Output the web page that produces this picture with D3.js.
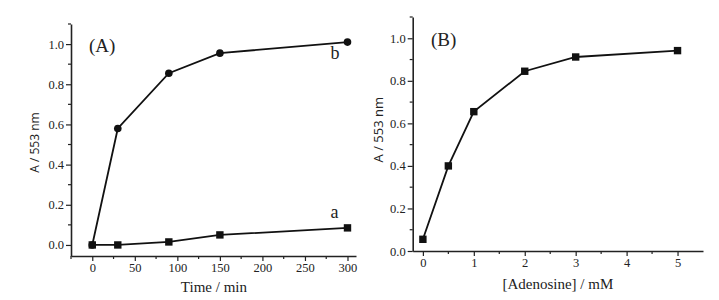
<!DOCTYPE html>
<html><head><meta charset="utf-8">
<script src="https://cdn.jsdelivr.net/npm/d3@7"></script>
<style>
body{margin:0;background:#fff;}
</style></head>
<body><svg id="c" width="719" height="300" font-family="Liberation Serif, Times New Roman, serif"></svg>
<script>
// Panel A data
const timeMin = [0, 30, 90, 150, 300];
const seriesB = [0.0, 0.58, 0.855, 0.955, 1.01];
const seriesA = [0.0, 0.0, 0.015, 0.05, 0.085];
const xTicksA = [0, 50, 100, 150, 200, 250, 300];
const yTicks = [0.0, 0.2, 0.4, 0.6, 0.8, 1.0];
// Panel B data
const adenosine = [0, 0.5, 1, 2, 3, 5];
const absB = [0.055, 0.40, 0.655, 0.845, 0.912, 0.942];
const xTicksB = [0, 1, 2, 3, 4, 5];

const SERIF = "Liberation Serif, Times New Roman, serif";
const SANS = "'Open Sans','DejaVu Sans',sans-serif";
const svg = d3.select("#c");

function axes(g, x, y, majX, minX, majY, minY, xFmt) {
  const [x0, x1] = x.range(), [y0, y1] = y.range();
  g.selectAll(".mx").data(minX).join("line")
    .attr("x1", d => x(d)).attr("x2", d => x(d)).attr("y1", y0).attr("y2", y0 + 3)
    .attr("stroke", "#222").attr("stroke-width", 1.2);
  g.selectAll(".my").data(minY).join("line")
    .attr("y1", d => y(d)).attr("y2", d => y(d)).attr("x1", x0).attr("x2", x0 - 3)
    .attr("stroke", "#222").attr("stroke-width", 1.2);
  const gx = g.append("g").attr("transform", `translate(0,${y0})`)
    .call(d3.axisBottom(x).tickValues(majX).tickSize(5).tickSizeOuter(0).tickPadding(2).tickFormat(xFmt));
  const gy = g.append("g").attr("transform", `translate(${x0},0)`)
    .call(d3.axisLeft(y).tickValues(majY).tickSize(5).tickSizeOuter(0).tickPadding(2).tickFormat(d3.format(".1f")));
  [gx, gy].forEach(a => {
    a.attr("font-family", SERIF).attr("font-size", 12.5);
    a.selectAll(".tick text").attr("fill", "#222");
    a.select(".domain").attr("stroke", "#222").attr("stroke-width", 1.6);
    a.selectAll(".tick line").attr("stroke", "#222").attr("stroke-width", 1.2);
  });
}

// ---------- Panel A ----------
const xA = d3.scaleLinear().domain([-25, 310]).range([71, 356]);
const yA = d3.scaleLinear().domain([-0.055, 1.1]).range([256, 24]);
const gA = svg.append("g");
axes(gA, xA, yA, xTicksA, d3.range(-25, 310, 25).filter(v => v % 50 !== 0),
     yTicks, [-0.1, 0.1, 0.3, 0.5, 0.7, 0.9, 1.1].filter(v => v >= -0.055), d3.format("d"));
const lineA = d3.line().x(d => xA(d[0])).y(d => yA(d[1]));
const dB = timeMin.map((t, i) => [t, seriesB[i]]);
const dA = timeMin.map((t, i) => [t, seriesA[i]]);
gA.append("path").attr("d", lineA(dB)).attr("fill", "none").attr("stroke", "#111").attr("stroke-width", 1.8);
gA.append("path").attr("d", lineA(dA)).attr("fill", "none").attr("stroke", "#111").attr("stroke-width", 1.8);
gA.selectAll(".cb").data(dB).join("circle").attr("cx", d => xA(d[0])).attr("cy", d => yA(d[1])).attr("r", 3.8).attr("fill", "#111");
gA.selectAll(".sa").data(dA).join("rect").attr("x", d => xA(d[0]) - 3.7).attr("y", d => yA(d[1]) - 3.7)
  .attr("width", 7.4).attr("height", 7.4).attr("fill", "#111");
gA.append("text").attr("x", 89).attr("y", 52).attr("font-size", 19).attr("fill", "#222").text("(A)");
gA.append("text").attr("x", xA(280)).attr("y", yA(0.925)).attr("font-size", 18).attr("fill", "#222").text("b");
gA.append("text").attr("x", xA(280)).attr("y", yA(0.135)).attr("font-size", 18).attr("fill", "#222").text("a");
gA.append("text").attr("x", xA(143)).attr("y", 292).attr("text-anchor", "middle").attr("font-size", 15).attr("fill", "#222").text("Time / min");
gA.append("text").attr("transform", `translate(39,${yA(0.51)}) rotate(-90)`).attr("text-anchor", "middle")
  .attr("font-family", SANS).attr("font-size", 12).attr("fill", "#222").text("A / 553 nm");

// ---------- Panel B ----------
const xB = d3.scaleLinear().domain([-0.2, 5.5]).range([412.7, 703]);
const yB = d3.scaleLinear().domain([0, 1.1]).range([251, 17]);
const gB = svg.append("g");
axes(gB, xB, yB, xTicksB, [0.5, 1.5, 2.5, 3.5, 4.5],
     yTicks, [0.1, 0.3, 0.5, 0.7, 0.9, 1.1], d3.format("d"));
const dBB = adenosine.map((c, i) => [c, absB[i]]);
gB.append("path").attr("d", d3.line().x(d => xB(d[0])).y(d => yB(d[1]))(dBB)).attr("fill", "none").attr("stroke", "#111").attr("stroke-width", 1.8);
gB.selectAll(".sb").data(dBB).join("rect").attr("x", d => xB(d[0]) - 3.7).attr("y", d => yB(d[1]) - 3.7)
  .attr("width", 7.4).attr("height", 7.4).attr("fill", "#111");
gB.append("text").attr("x", 431).attr("y", 46).attr("font-size", 19).attr("fill", "#222").text("(B)");
gB.append("text").attr("x", xB(2.65)).attr("y", 289).attr("text-anchor", "middle").attr("font-size", 15).attr("fill", "#222").text("[Adenosine] / mM");
gB.append("text").attr("transform", `translate(383,${yB(0.57)}) rotate(-90)`).attr("text-anchor", "middle")
  .attr("font-family", SANS).attr("font-size", 13).attr("fill", "#222").text("A / 553 nm");
</script></body></html>
